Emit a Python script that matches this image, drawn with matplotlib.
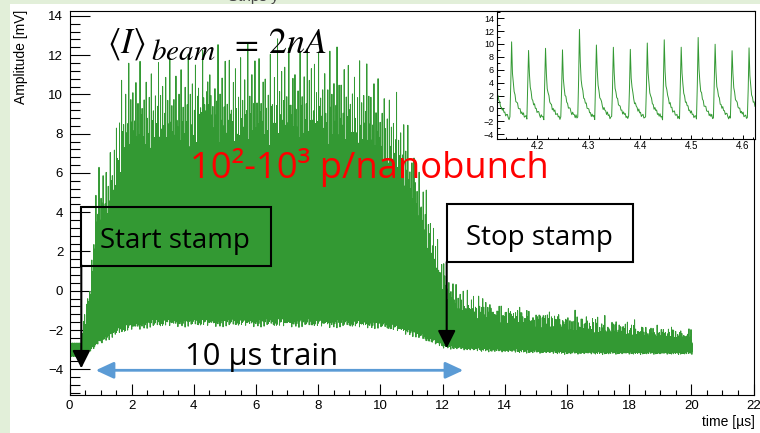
import numpy as np
import matplotlib
matplotlib.use("Agg")
import matplotlib.pyplot as plt
from matplotlib.patches import Rectangle, FancyArrowPatch
from matplotlib.ticker import MultipleLocator

# ---------------- data ----------------
bunch_period_us = 0.033        # spike spacing seen in the inset
samples_per_bunch = 20
first_bunch_us = 0.421
last_time_us = 20.0

# lower baseline of the trace (mV) vs time (us)
base_t = [0.0, 0.42, 0.7, 1.0, 1.5, 2.0, 2.6, 3.2, 6.0, 9.0, 10.0, 10.5, 11.0, 11.5, 12.0, 13.0, 14.0, 16.0, 20.0]
base_v = [-3.0, -3.0, -2.8, -2.4, -2.0, -1.75, -1.6, -1.55, -1.55, -1.6, -1.65, -1.8, -2.0, -2.3, -2.6, -2.75, -2.8, -2.9, -2.9]

# typical spike top (mV) vs time (us)
env_t = [0.42, 0.6, 0.75, 0.85, 1.0, 1.3, 1.5, 1.7, 2.0, 3.0, 4.0, 5.0, 6.0, 7.0, 8.0, 9.0, 9.5, 10.0,
         10.5, 11.0, 11.3, 11.6, 11.9, 12.2, 12.6, 13.0, 14.0, 15.0, 16.0, 17.0, 18.0, 19.0, 20.0]
env_v = [-2.0, -0.5, 1.0, 4.0, 4.5, 5.2, 7.0, 8.5, 9.0, 9.2, 9.3, 9.5, 9.5, 9.7, 9.7, 9.4, 9.1, 8.5,
         7.6, 6.0, 4.5, 2.8, 1.2, 0.0, -0.6, -0.8, -1.2, -1.4, -1.6, -1.8, -2.0, -2.2, -2.3]

# single-bunch pulse shape (fraction of amplitude), one value per sample
pulse_shape = [0.45, 1.0, 0.62, 0.45, 0.36, 0.30, 0.25, 0.21, 0.18, 0.15,
               0.13, 0.11, 0.09, 0.075, 0.06, 0.045, 0.035, 0.025, 0.015, 0.005]

# bunch-to-bunch spread of spike heights
height_factor = [1.00, 0.91, 1.07, 0.86, 1.14, 0.97, 0.89, 1.04, 0.83, 1.21, 0.95, 1.02, 0.88, 1.10, 0.93,
                 0.99, 1.26, 0.85, 1.06, 0.94, 1.12, 0.90, 0.98, 1.17, 0.87, 1.03, 0.92, 1.22, 0.96]

# spike tops in the zoomed inset (4.12 - 4.62 us)
inset_first_bunch = 113
inset_peaks = [10.2, 9.3, 9.4, 8.8, 12.2, 10.0, 9.5, 9.0, 10.0, 10.4, 9.7, 10.8, 10.1, 9.2, 9.2]

# baseline wiggle (mV)
noise_mv = [0.12, -0.25, 0.31, -0.08, 0.18, -0.33, 0.05, 0.27, -0.19, -0.02, 0.22, -0.30, 0.14, -0.11,
            0.34, -0.21, 0.03, 0.26, -0.15, 0.09, -0.31, 0.19, -0.04, 0.28, -0.24, 0.07, -0.17, 0.33,
            -0.06, 0.16, -0.27, 0.11, 0.24, -0.13, -0.35, 0.20, 0.01]

main_xticks = [0, 2, 4, 6, 8, 10, 12, 14, 16, 18, 20, 22]
main_yticks = [-4, -2, 0, 2, 4, 6, 8, 10, 12, 14]
inset_xticks = [4.2, 4.3, 4.4, 4.5, 4.6]
inset_yticks = [-4, -2, 0, 2, 4, 6, 8, 10, 12, 14]

# ---------------- build the trace ----------------
dt = bunch_period_us / samples_per_bunch
n_bunch = int(np.floor((last_time_us - first_bunch_us) / bunch_period_us)) + 1
k = np.arange(n_bunch)
bt = first_bunch_us + k * bunch_period_us
base_at = np.interp(bt, base_t, base_v)
env_at = np.interp(bt, env_t, env_v)
fac = np.array(height_factor)[k % len(height_factor)]
peak = base_at + (env_at - base_at) * fac
peak[inset_first_bunch:inset_first_bunch + len(inset_peaks)] = inset_peaks

i = np.arange(samples_per_bunch)
ts = bt[:, None] + (i[None, :] - 1) * dt
bs = np.interp(ts, base_t, base_v)
vs = bs + (peak - base_at)[:, None] * np.array(pulse_shape)[None, :]

t_pre = np.arange(0.0, first_bunch_us - dt - 1e-9, dt)
v_pre = np.interp(t_pre, base_t, base_v)
t_all = np.concatenate([t_pre, ts.ravel()])
v_all = np.concatenate([v_pre, vs.ravel()])
v_all = v_all + np.resize(np.array(noise_mv), v_all.size)

# ---------------- figure ----------------
W, H = 760, 433
plt.rcParams["font.family"] = ["Liberation Sans", "DejaVu Sans"]
plt.rcParams["mathtext.fontset"] = "stix"
fig = plt.figure(figsize=(W / 100, H / 100), dpi=100, facecolor="#e2efd9")

def P(px, py):
    return (px / W, 1 - py / H)

fig.add_artist(Rectangle((10 / W, 0), 1 - 10 / W, 1 - 4 / H, transform=fig.transFigure,
                         facecolor="white", edgecolor="none", zorder=-10))
fig.text(253 / W, 1 - 1 / H, "Strips y", ha="center", va="baseline", fontsize=11, color="#444444")

green = "#339933"

ax = fig.add_axes([69.5 / W, 1 - 395 / H, (753.5 - 69.5) / W, (395 - 11) / H])
ax.set_facecolor("white")
ax.plot(t_all, v_all, color=green, lw=0.7)
ax.set_xlim(0, 22)
ax.set_ylim(-5.31, 14.25)
ax.set_xticks(main_xticks)
ax.set_yticks(main_yticks)
ax.xaxis.set_minor_locator(MultipleLocator(0.5))
ax.yaxis.set_minor_locator(MultipleLocator(0.4))
ax.tick_params(axis="y", which="major", direction="in", length=14.4, width=0.8, labelsize=9.5, pad=4.5)
ax.tick_params(axis="y", which="minor", direction="in", length=7.2, width=0.8)
ax.tick_params(axis="x", which="major", direction="in", length=8, width=0.8, labelsize=9.5, pad=3.6)
ax.tick_params(axis="x", which="minor", direction="in", length=3.6, width=0.8)
for s in ax.spines.values():
    s.set_linewidth(0.8)

fig.text(21.5 / W, 1 - 10 / H, "Amplitude [mV]", rotation=90, ha="center", va="top", fontsize=10)
fig.text(755 / W, 1 - 426 / H, "time [µs]", ha="right", va="baseline", fontsize=10)

# inset
axi = fig.add_axes([496.7 / W, 1 - 139 / H, (754.7 - 496.7) / W, (139 - 11) / H])
axi.set_facecolor("white")
axi.plot(t_all, v_all, color=green, lw=0.7)
axi.set_xlim(4.121, 4.623)
axi.set_ylim(-4.73, 15.1)
axi.set_xticks(inset_xticks)
axi.set_yticks(inset_yticks)
axi.xaxis.set_minor_locator(MultipleLocator(0.02))
axi.yaxis.set_minor_locator(MultipleLocator(1))
axi.tick_params(axis="y", which="major", direction="in", length=5, width=0.7, labelsize=6.5, pad=2)
axi.tick_params(axis="y", which="minor", direction="in", length=2.5, width=0.7)
axi.tick_params(axis="x", which="major", direction="in", length=3, width=0.7, labelsize=7, pad=1.3)
axi.tick_params(axis="x", which="minor", direction="in", length=1.5, width=0.7)
for s in axi.spines.values():
    s.set_linewidth(0.8)

# annotations (figure pixel positions)
ann_font = ["Open Sans", "DejaVu Sans"]
fig.text(*P(107, 53), r"$\langle I\rangle$", fontsize=25, ha="left", va="baseline")
fig.text(*P(151, 60), r"$beam$", fontsize=21, ha="left", va="baseline")
fig.text(*P(229, 53), r"$=$", fontsize=25, ha="left", va="baseline")
fig.text(*P(268, 53), r"$2nA$", fontsize=26, ha="left", va="baseline")

fig.text(*P(190, 178), "10²-10³ p/nanobunch", color="red", fontsize=26.2, family=ann_font,
         ha="left", va="baseline")

fig.add_artist(Rectangle(P(80.7, 265.7), (270.7 - 80.7) / W, (265.7 - 207.3) / H,
                         transform=fig.transFigure, fill=False, edgecolor="black", lw=1.5))
fig.text(*P(100, 248), "Start stamp", fontsize=20, family=ann_font, ha="left", va="baseline")
fig.add_artist(FancyArrowPatch(P(81.3, 265), P(81.3, 368.3), transform=fig.transFigure,
                               arrowstyle="-|>,head_length=10.8,head_width=5.4", color="black", lw=1.5,
                               shrinkA=0, shrinkB=0))

fig.add_artist(Rectangle(P(446.7, 262.3), (633.3 - 446.7) / W, (262.3 - 204.3) / H,
                         transform=fig.transFigure, fill=False, edgecolor="black", lw=1.5))
fig.text(*P(466, 245), "Stop stamp", fontsize=20, family=ann_font, ha="left", va="baseline")
fig.add_artist(FancyArrowPatch(P(446.7, 262), P(446.7, 348.3), transform=fig.transFigure,
                               arrowstyle="-|>,head_length=10.8,head_width=5.4", color="black", lw=1.5,
                               shrinkA=0, shrinkB=0))

fig.add_artist(FancyArrowPatch(P(95.7, 370.3), P(463.3, 370.3), transform=fig.transFigure,
                               arrowstyle="<|-|>,head_length=10.8,head_width=5.0", color="#5b9bd5", lw=2,
                               shrinkA=0, shrinkB=0))
fig.text(*P(185, 365), "10 µs train", fontsize=22.3, family=ann_font, ha="left", va="baseline")

fig.savefig("out.png", dpi=100, facecolor=fig.get_facecolor())
